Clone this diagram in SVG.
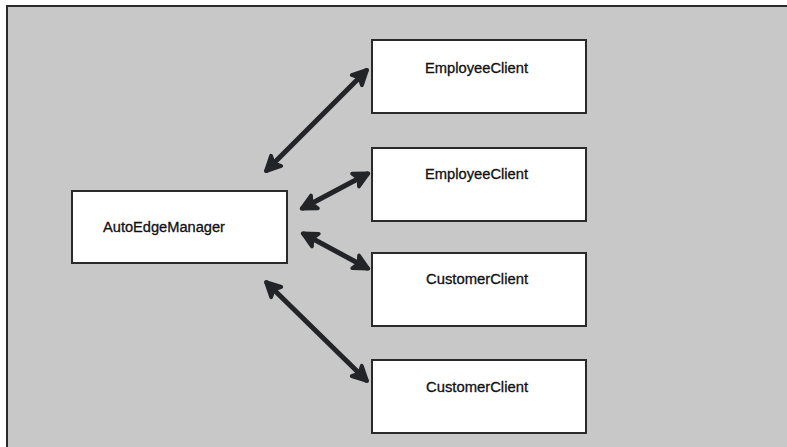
<svg xmlns="http://www.w3.org/2000/svg" width="787" height="447" viewBox="0 0 787 447">
  <defs>
    <style>
      .node rect { fill: #ffffff; stroke: #2a2a2a; stroke-width: 2; }
      .node text { font-family: "Liberation Sans", "DejaVu Sans", sans-serif; font-size: 14px; fill: #111111; stroke: #111111; stroke-width: 0.3; }
      .link { stroke: #222428; stroke-width: 5; stroke-linecap: round; fill: none; marker-start: url(#head); marker-end: url(#head); }
    </style>
    <marker id="head" viewBox="0 0 10 10" refX="8" refY="5" markerWidth="3.8" markerHeight="3.8" orient="auto-start-reverse" markerUnits="strokeWidth">
      <path d="M1.2,1.2 L8.8,5 L1.2,8.8 L3,5 Z" fill="#222428" stroke="#222428" stroke-width="2" stroke-linejoin="round"/>
    </marker>
  </defs>

  <!-- canvas -->
  <rect x="0" y="0" width="787" height="447" fill="#ffffff"/>
  <rect x="7" y="6" width="790" height="450" fill="#c8c8c8" stroke="#2a2a2a" stroke-width="2"/>

  <g id="connectors">
    <line class="link" x1="267" y1="170" x2="366" y2="71"/>
    <line class="link" x1="303" y1="208" x2="367" y2="174"/>
    <line class="link" x1="304" y1="234" x2="367" y2="268"/>
    <line class="link" x1="267" y1="283" x2="366" y2="380"/>
  </g>

  <g id="auto-edge-manager" class="node">
    <rect x="72" y="191" width="215" height="72"/>
    <text x="103" y="232" textLength="122" lengthAdjust="spacingAndGlyphs">AutoEdgeManager</text>
  </g>

  <g id="employee-client-1" class="node">
    <rect x="372" y="40" width="214" height="73"/>
    <text x="425" y="73" textLength="103" lengthAdjust="spacingAndGlyphs">EmployeeClient</text>
  </g>

  <g id="employee-client-2" class="node">
    <rect x="372" y="148" width="214" height="73"/>
    <text x="425" y="179" textLength="103" lengthAdjust="spacingAndGlyphs">EmployeeClient</text>
  </g>

  <g id="customer-client-1" class="node">
    <rect x="372" y="253" width="214" height="73"/>
    <text x="426" y="284" textLength="102" lengthAdjust="spacingAndGlyphs">CustomerClient</text>
  </g>

  <g id="customer-client-2" class="node">
    <rect x="372" y="360" width="214" height="73"/>
    <text x="426" y="392" textLength="102" lengthAdjust="spacingAndGlyphs">CustomerClient</text>
  </g>
</svg>
